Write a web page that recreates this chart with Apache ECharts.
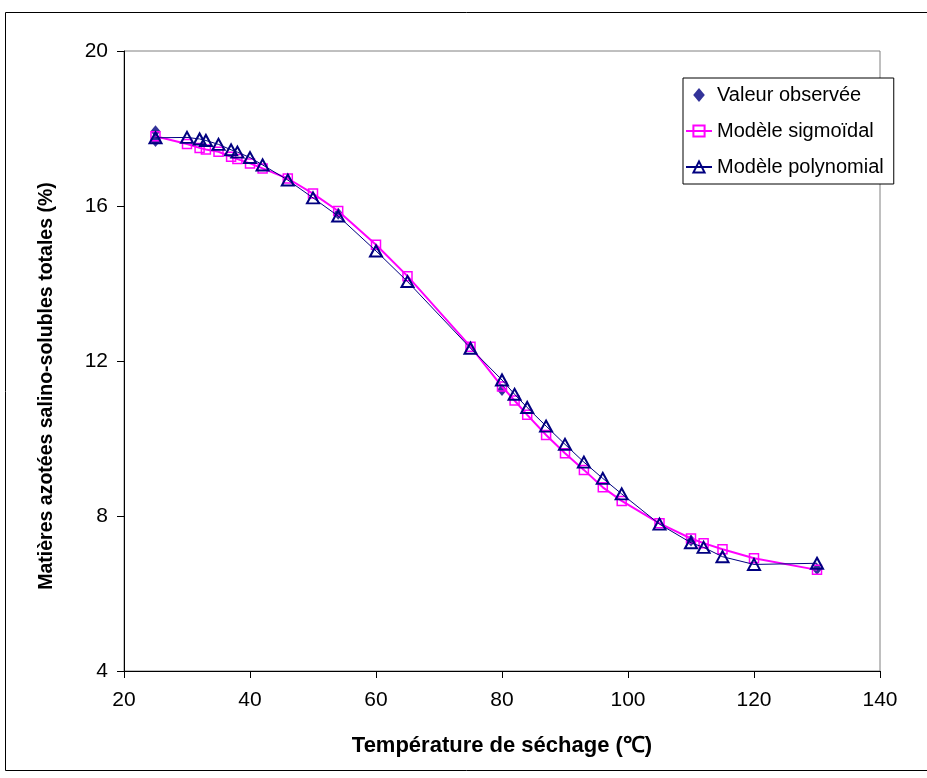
<!DOCTYPE html>
<html>
<head>
<meta charset="utf-8">
<script src="https://cdn.jsdelivr.net/npm/echarts@6/dist/echarts.min.js"></script>
<style>
  html, body { margin: 0; padding: 0; background: #fff; }
  #chart { width: 927px; height: 778px; }
</style>
</head>
<body>
<div id="chart"></div>
<script>
// Drying temperatures (°C) shared by both fitted models
const temperatures = [25, 30, 32, 33, 35, 37, 38, 40, 42, 46, 50, 54, 60, 65, 75, 80, 82, 84, 87, 90, 93, 96, 99, 105, 110, 112, 115, 120, 130];

// Sigmoid model predictions (%)
const sigmoidValues = [17.80, 17.60, 17.50, 17.46, 17.40, 17.27, 17.21, 17.10, 16.97, 16.71, 16.32, 15.87, 15.00, 14.19, 12.37, 11.34, 10.98, 10.61, 10.09, 9.62, 9.19, 8.74, 8.39, 7.81, 7.42, 7.30, 7.14, 6.91, 6.61];

// Polynomial model predictions (%)
const polynomialValues = [17.76, 17.77, 17.73, 17.69, 17.59, 17.45, 17.39, 17.25, 17.06, 16.67, 16.21, 15.74, 14.84, 14.05, 12.33, 11.51, 11.14, 10.80, 10.32, 9.85, 9.39, 8.97, 8.57, 7.79, 7.31, 7.19, 6.95, 6.75, 6.78];

// Observed measurements
const observedTemps = [25, 25, 54, 80, 110, 130];
const observedValues = [17.93, 17.68, 15.80, 11.25, 7.37, 6.63];

// Axis ticks
const xTicks = [20, 40, 60, 80, 100, 120, 140];
const yTicks = [4, 8, 12, 16, 20];

const seriesNames = ['Valeur observée', 'Modèle sigmoïdal', 'Modèle polynomial'];
const xTitle = 'Température de séchage (℃)';
const yTitle = 'Matières azotées salino-solubles totales (%)';

const pairs = (xs, ys) => xs.map((x, i) => [x, ys[i]]);

const NAVY = '#000080';
const MAGENTA = '#FF00FF';
const FONT = 'Liberation Sans, Arial, sans-serif';

const chart = echarts.init(document.getElementById('chart'), null, { renderer: 'canvas' });

chart.setOption({
  animation: false,
  backgroundColor: '#fff',
  graphic: [
    {
      // outer frame around the whole chart
      type: 'rect',
      shape: { x: 5.5, y: 12.5, width: 940, height: 758 },
      style: { fill: 'none', stroke: '#000', lineWidth: 1 },
      silent: true,
      z: -10
    },
    {
      // vertical axis title
      type: 'text',
      x: 47, y: 386,
      rotation: Math.PI / 2,
      style: {
        text: yTitle,
        fontFamily: FONT, fontSize: 19.5, fontWeight: 'bold', fill: '#000',
        align: 'center', verticalAlign: 'middle'
      },
      silent: true
    }
  ],
  grid: {
    left: 124, top: 51, width: 756, height: 620,
    show: true, borderColor: '#808080', borderWidth: 1, backgroundColor: 'transparent'
  },
  legend: {
    orient: 'vertical',
    left: 683, top: 78,
    padding: [7, 10, 7, 2],
    itemWidth: 26, itemHeight: 14, itemGap: 16,
    borderColor: '#000', borderWidth: 1,
    backgroundColor: '#fff',
    textStyle: { fontFamily: FONT, fontSize: 20, lineHeight: 20, color: '#000' },
    data: [
      { name: seriesNames[0], icon: 'path://M5,0L10,6L5,12L0,6Z' },
      { name: seriesNames[1] },
      { name: seriesNames[2] }
    ]
  },
  xAxis: {
    type: 'value',
    min: xTicks[0], max: xTicks[xTicks.length - 1], interval: 20,
    name: xTitle, nameLocation: 'middle', nameGap: 64,
    nameTextStyle: { fontFamily: FONT, fontSize: 22, fontWeight: 'bold', color: '#000' },
    axisLine: { lineStyle: { color: '#000', width: 1 } },
    axisTick: { show: true, inside: false, length: 7, lineStyle: { color: '#000' } },
    axisLabel: { fontFamily: FONT, fontSize: 21, color: '#000', margin: 19 },
    splitLine: { show: false }
  },
  yAxis: {
    type: 'value',
    min: yTicks[0], max: yTicks[yTicks.length - 1], interval: 4,
    axisLine: { show: true, lineStyle: { color: '#000', width: 1 } },
    axisTick: { show: true, inside: false, length: 7, lineStyle: { color: '#000' } },
    axisLabel: { fontFamily: FONT, fontSize: 21, color: '#000', margin: 16 },
    splitLine: { show: false }
  },
  series: [
    {
      name: seriesNames[0],
      type: 'scatter',
      data: pairs(observedTemps, observedValues),
      symbol: 'diamond',
      symbolSize: [10, 12],
      itemStyle: { color: NAVY },
      z: 2
    },
    {
      name: seriesNames[1],
      type: 'line',
      data: pairs(temperatures, sigmoidValues),
      symbol: 'rect',
      symbolSize: 9,
      showAllSymbol: true,
      lineStyle: { color: MAGENTA, width: 2 },
      itemStyle: { color: 'rgba(255,255,255,0)', borderColor: MAGENTA, borderWidth: 1.5 },
      z: 3
    },
    {
      name: seriesNames[2],
      type: 'line',
      data: pairs(temperatures, polynomialValues),
      symbol: 'triangle',
      symbolSize: [12, 11],
      showAllSymbol: true,
      lineStyle: { color: NAVY, width: 1 },
      itemStyle: { color: 'rgba(255,255,255,0)', borderColor: NAVY, borderWidth: 2 },
      z: 4
    }
  ]
});
</script>
</body>
</html>
